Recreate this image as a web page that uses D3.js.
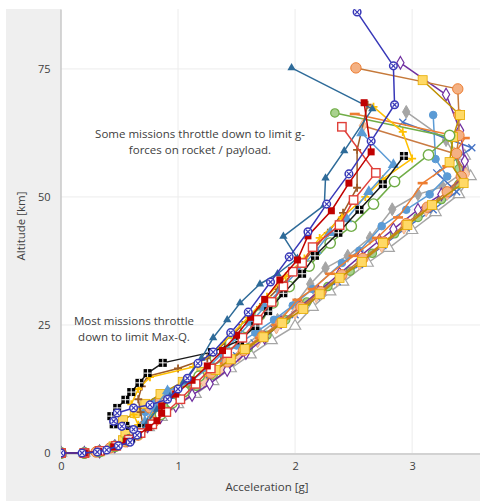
<!DOCTYPE html>
<html><head><meta charset="utf-8">
<script src="https://cdn.jsdelivr.net/npm/d3@7"></script>
<style>body{margin:0;background:#fff}svg{display:block}</style>
</head><body>
<script>
// ---------- DATA (acceleration [g], altitude [km]) ----------
const xTicks = [0, 1, 2, 3];
const yTicks = [0, 25, 50, 75];
const xTitle = "Acceleration [g]";
const yTitle = "Altitude [km]";
const noteTop = ["Some missions throttle down to limit g-", "forces on rocket / payload."];
const noteLow = ["Most missions throttle", "down to limit Max-Q."];

// lower / right band
const greyTriOpen = [[0,0],[0.2,0],[0.33,0.3],[0.46,1.3],[0.57,2.5],[0.66,3.8],[0.75,5],[0.86,7],[1.0,9.5],[1.15,11.5],[1.3,14],[1.45,16.5],[1.62,19.2],[1.8,22],[2.0,24.8],[2.15,28.5],[2.3,31.5],[2.41,33.4],[2.62,37.1],[2.8,40],[3.0,43.5],[3.2,47],[3.4,50.5],[3.5,54],[3.45,58]];
const greyDiamond = [[0,0],[0.2,0],[0.33,0.3],[0.46,1.3],[0.57,2.5],[0.66,3.8],[0.72,5.4],[0.82,7.8],[0.95,10],[1.1,12.5],[1.25,15],[1.4,17.5],[1.55,20.5],[1.7,23.3],[1.85,26],[2.0,29],[2.13,33],[2.26,36.1],[2.45,38.5],[2.64,42],[2.83,47.6],[3.05,50.5],[3.26,52],[3.45,55],[3.29,61.1],[2.95,66.6]];
const blueCross = [[0,0],[0.2,0],[0.33,0.3],[0.46,1.3],[0.58,2.6],[0.67,4],[0.74,5.8],[0.82,8],[0.93,10],[1.05,12],[1.2,14],[1.35,16.5],[1.5,19],[1.65,21.5],[1.82,24.2],[2.0,27],[2.18,30.5],[2.36,33.5],[2.55,36.8],[2.75,40.5],[2.95,44],[3.18,47.5],[3.38,51],[3.21,54.7],[3.51,59.6],[2.92,64.6]];
const lightBlueCircle = [[0,0],[0.2,0],[0.32,0.3],[0.44,1.2],[0.56,2.4],[0.65,3.7],[0.7,5.5],[0.72,8],[0.8,10],[0.92,12],[1.08,14],[1.22,16],[1.36,18.5],[1.5,21],[1.66,23.5],[1.82,26],[1.98,28.8],[2.15,32],[2.4,37.1],[2.55,39.5],[2.74,44.3],[2.95,47.5],[3.15,50.5],[3.3,54],[3.2,57.4],[3.18,66]];
const greenDiamond = [[0,0],[0.2,0],[0.32,0.3],[0.45,1.2],[0.56,2.4],[0.65,3.7],[0.72,5],[0.8,7],[0.9,9],[1.02,11],[1.16,13],[1.3,15.2],[1.45,17.8],[1.6,20.5],[1.76,23],[1.92,26],[2.1,29.5],[2.28,32.5],[2.47,35.5],[2.66,39],[2.85,42.8],[3.05,46],[3.25,49.5],[3.4,52.5],[3.4,55.5],[3.32,61.7],[2.34,66.4]];
const peachDiamond = [[0,0],[0.2,0],[0.32,0.3],[0.45,1.2],[0.56,2.4],[0.65,3.7],[0.73,5.2],[0.83,7.4],[0.95,9.6],[1.08,11.8],[1.22,14],[1.37,16.4],[1.52,19],[1.68,21.8],[1.84,24.5],[2.0,27.4],[2.18,30.6],[2.36,33.8],[2.55,37],[2.74,40.4],[2.93,44],[3.12,47.4],[3.3,50.6],[3.46,54.5],[3.36,58.5],[2.58,63.9]];
const purpleDiamond = [[0,0],[0.2,0],[0.33,0.3],[0.46,1.3],[0.57,2.5],[0.66,3.8],[0.74,5.2],[0.85,7],[0.98,9.2],[1.12,11.3],[1.27,13.5],[1.42,16.2],[1.58,19.5],[1.74,22.5],[1.88,25.5],[2.04,28.5],[2.2,31.5],[2.38,35],[2.56,38.5],[2.72,41.5],[2.84,43.7],[3.05,47.5],[3.25,50.5],[3.42,53.5],[3.45,57],[3.41,63],[3.29,70],[2.90,76.2]];
const orangeDash = [[0,0],[0.2,0],[0.33,0.3],[0.46,1.3],[0.57,2.5],[0.66,3.8],[0.72,5.2],[0.78,7],[0.85,9],[0.98,11],[1.1,13],[1.25,15.2],[1.4,17.5],[1.57,20.5],[1.7,22.5],[1.84,25],[2.02,29.9],[2.15,32],[2.3,35],[2.5,38.5],[2.7,42],[2.88,46],[3.09,52.7],[3.3,56],[3.45,61.5],[2.51,66.2]];
const orangeCircle = [[0,0],[0.2,0],[0.3,0.2],[0.42,1.0],[0.55,2.2],[0.66,3.5],[0.70,5.0],[0.79,6.0],[0.83,7.4],[0.76,8.8],[0.85,10.2],[0.98,12],[1.12,13.8],[1.28,15.6],[1.42,17.8],[1.56,20],[1.72,22.8],[1.88,25.5],[2.05,28.5],[2.22,31.5],[2.4,34.8],[2.58,38],[2.76,41.2],[2.95,44.8],[3.13,48],[3.3,51],[3.42,54],[3.38,58.5],[3.40,62],[3.40,66],[3.39,71.1],[2.52,75.2]];
const yellowSquare = [[0,0],[0.2,0],[0.33,0.3],[0.45,1.3],[0.53,2.5],[0.55,4.0],[0.53,6.4],[0.63,7.8],[0.72,9.6],[0.85,11.5],[1.04,13.9],[1.2,15.8],[1.32,16.2],[1.45,18.3],[1.57,20.3],[1.73,22.6],[1.89,25.4],[2.07,28.1],[2.21,31],[2.38,34.2],[2.57,37.3],[2.75,41],[2.96,44.5],[3.17,48.4],[3.44,52.7],[3.32,56.8],[3.35,61.7],[3.41,66],[3.09,72.8]];

// upper / left band
const brownPlus = [[0,0],[0.2,0],[0.33,0.3],[0.46,1.3],[0.57,2.5],[0.66,3.8],[0.7,5.5],[0.68,8],[0.66,10.5],[0.69,13],[0.74,15],[1.0,16.5],[1.25,18.5],[1.4,21.5],[1.55,25],[1.7,28.5],[1.85,32],[2.0,35.5],[2.15,39.5],[2.28,43],[2.41,46.9],[2.53,51.8],[2.53,59.2],[2.62,68]];
const greenCircleOpen = [[0,0],[0.2,0],[0.33,0.3],[0.46,1.3],[0.57,2.5],[0.66,3.8],[0.75,5.5],[0.85,7.5],[0.95,9.8],[1.05,12],[1.18,15],[1.32,18.5],[1.45,21.5],[1.58,24.5],[1.70,27],[1.81,29.3],[1.95,32.5],[2.12,36.5],[2.30,41],[2.48,44.3],[2.67,48.6],[2.85,53],[3.14,58.2],[3.32,62]];
const yellowPlus = [[0,0],[0.2,0],[0.32,0.3],[0.45,1.3],[0.56,2.5],[0.64,3.8],[0.66,5.5],[0.62,7.5],[0.6,9.5],[0.66,12.5],[0.76,14.8],[1.13,16.8],[1.3,19.5],[1.45,23],[1.6,26.5],[1.76,30.5],[1.92,34.5],[2.08,38],[2.21,42],[2.4,46],[2.6,50],[2.75,53.5],[3.0,57.5],[2.92,62.7],[2.67,67.6]];
const lightBlueTriangle = [[0,0],[0.2,0],[0.33,0.3],[0.46,1.3],[0.58,2.5],[0.67,4],[0.72,6],[0.8,9],[0.91,12.1],[1.1,13.8],[1.25,16.5],[1.38,19.5],[1.5,22.5],[1.62,25.5],[1.74,28.5],[1.88,32],[2.02,35.5],[2.18,39.5],[2.3,43],[2.44,45.7],[2.63,51],[2.84,56.3],[2.57,62.5]];
const blackSquare = [[0,0],[0.2,0],[0.34,0.4],[0.48,1.5],[0.6,2.8],[0.69,4.9],[0.55,5.3],[0.45,5.6],[0.43,7.2],[0.48,8.8],[0.55,10.4],[0.6,11.9],[0.67,13.7],[0.74,15.6],[0.87,17.6],[1.29,19.7],[1.53,22],[1.66,24.8],[1.77,27.7],[1.90,31.2],[2.06,35],[2.17,38.5],[2.37,43],[2.55,47.5],[2.75,52.5],[2.93,58]];
const tealTriangle = [[0,0],[0.2,0],[0.33,0.3],[0.46,1.3],[0.58,2.6],[0.67,4],[0.74,6],[0.82,8.5],[0.93,11],[1.05,14],[1.2,18.5],[1.3,22.5],[1.42,26],[1.53,29.3],[1.7,33],[1.85,35],[2.02,38],[1.90,42.3],[2.25,48.4],[2.26,53.7],[2.42,59],[2.66,67.2],[1.97,75.2]];
const redSquareOpen = [[0,0],[0.2,0],[0.33,0.4],[0.47,1.4],[0.58,2.6],[0.68,3.9],[0.78,5.6],[0.9,8],[1.02,10.5],[1.15,13.5],[1.28,16.5],[1.42,19.5],[1.55,22.5],[1.68,26],[1.8,29.5],[1.9,32.5],[1.98,35.4],[2.06,37.1],[2.15,40.2],[2.38,44.5],[2.50,49.4],[2.69,54.7],[2.40,63.7]];
const redSquare = [[0,0],[0.2,0],[0.32,0.3],[0.45,1.2],[0.56,2.3],[0.66,3.6],[0.75,5.0],[0.82,6.3],[0.86,7.8],[0.86,9.2],[0.98,11.5],[1.12,14.2],[1.25,17],[1.38,20],[1.5,23],[1.62,26.5],[1.74,30],[1.87,33.8],[2.02,37.7],[2.11,42.4],[2.31,47.3],[2.46,52.7],[2.65,58.8],[2.59,68.4]];
const navyCircleX = [[0,0],[0.18,0],[0.31,0.2],[0.39,0.6],[0.49,1.4],[0.59,2.1],[0.65,3.5],[0.62,4.6],[0.52,5.2],[0.45,6.2],[0.48,7.8],[0.62,8.8],[0.76,9.4],[0.91,10.5],[1.0,12.5],[1.08,14.6],[1.17,17.5],[1.3,19.7],[1.45,23.5],[1.6,27.5],[1.79,33.4],[1.95,38.3],[2.11,43.2],[2.27,48.6],[2.46,54.5],[2.65,60.9],[2.85,68],[2.84,75.6],[2.53,86.1]];

// ---------- STYLES (drawing order) ----------
const series = [
  {data: greyTriOpen,      line: "#a5a5a5", marker: "triOpen",   stroke: "#a5a5a5", fill: "#fff"},
  {data: greyDiamond,      line: "#a5a5a5", marker: "diamond",   stroke: "#a5a5a5", fill: "#a5a5a5"},
  {data: blueCross,        line: "#4472c4", marker: "x",         stroke: "#4472c4", fill: "none"},
  {data: lightBlueCircle,  line: "#5b9bd5", marker: "circle",    stroke: "#5b9bd5", fill: "#5b9bd5"},
  {data: greenDiamond,     line: "#70ad47", marker: "circleG",   stroke: "#70ad47", fill: "#a9d18e"},
  {data: peachDiamond,     line: "#c97b43", marker: "diamond",   stroke: "#f4b183", fill: "#f8cbad"},
  {data: purpleDiamond,    line: "#7030a0", marker: "diamondOpen", stroke: "#7030a0", fill: "#fff"},
  {data: orangeDash,       line: "#ed7d31", marker: "dash",      stroke: "#ed7d31", fill: "none"},
  {data: orangeCircle,     line: "#c5793a", marker: "circleBig", stroke: "#ed7d31", fill: "#f4b183"},
  {data: yellowSquare,     line: "#bf9000", marker: "squareBig", stroke: "#e6ac00", fill: "#ffd966"},
  {data: brownPlus,        line: "#9c5a26", marker: "plus",      stroke: "#9c5a26", fill: "none"},
  {data: greenCircleOpen,  line: "#70ad47", marker: "circleOpen",stroke: "#70ad47", fill: "#fff"},
  {data: yellowPlus,       line: "#ffc000", marker: "plus",      stroke: "#ffc000", fill: "none"},
  {data: lightBlueTriangle,line: "#5b9bd5", marker: "triBig",    stroke: "#5b9bd5", fill: "#5b9bd5"},
  {data: blackSquare,      line: "#1a1a1a", marker: "blackSq",   stroke: "#000",    fill: "#000"},
  {data: tealTriangle,     line: "#2e6b99", marker: "tri",       stroke: "#2e6b99", fill: "#2e6b99"},
  {data: redSquareOpen,    line: "#e0403a", marker: "squareOpen",stroke: "#e0403a", fill: "#fff"},
  {data: redSquare,        line: "#c00000", marker: "square",    stroke: "#c00000", fill: "#c00000"},
  {data: navyCircleX,      line: "#3838b8", marker: "circleX",   stroke: "#3838b8", fill: "#fff"}
];

// ---------- CHART ----------
const W = 480, H = 501;
const M = {left: 61, top: 9, right: 0, bottom: 48};
const svg = d3.select("body").append("svg").attr("width", W).attr("height", H);

svg.append("rect").attr("x", 6).attr("y", 9).attr("width", W - 6).attr("height", H - 9).attr("fill", "#efefef");

const x = d3.scaleLinear().domain([0, 3.58]).range([M.left, W]);
const y = d3.scaleLinear().domain([0, 86.7]).range([453, M.top]);

svg.append("rect").attr("x", M.left).attr("y", M.top).attr("width", W - M.left).attr("height", 453 - M.top).attr("fill", "#fff");

const font = "'Open Sans', 'Noto Sans', sans-serif";

// grid
const grid = svg.append("g");
grid.selectAll(".gx").data(xTicks.filter(d => d > 0)).join("line")
  .attr("x1", d => x(d)).attr("x2", d => x(d)).attr("y1", M.top).attr("y2", 453)
  .attr("stroke", "#ececec").attr("stroke-width", 1);
grid.selectAll(".gy").data(yTicks.filter(d => d > 0)).join("line")
  .attr("x1", M.left).attr("x2", W).attr("y1", d => y(d)).attr("y2", d => y(d))
  .attr("stroke", "#ececec").attr("stroke-width", 1);

// axes
const xAxis = svg.append("g").attr("transform", "translate(0,453.5)")
  .call(d3.axisBottom(x).tickValues(xTicks).tickSize(0).tickPadding(9).tickFormat(d3.format("d")));
const yAxis = svg.append("g").attr("transform", "translate(60.5,0)")
  .call(d3.axisLeft(y).tickValues(yTicks).tickSize(0).tickPadding(10).tickFormat(d3.format("d")));
[xAxis, yAxis].forEach(a => {
  a.select(".domain").attr("stroke", "#c8c8c8").attr("stroke-width", 1.5);
  a.selectAll("text").attr("font-family", font).attr("font-size", 11).attr("fill", "#404040");
});

// plot
const clip = svg.append("clipPath").attr("id", "clp").append("rect")
  .attr("x", M.left).attr("y", M.top).attr("width", W - M.left).attr("height", 453 - M.top + 6);
const plot = svg.append("g").attr("clip-path", "url(#clp)");
const lineGen = d3.line().x(d => x(d[0])).y(d => y(d[1]));

function drawMarker(g, s) {
  const t = s.marker;
  const c = s.stroke;
  if (t === "circle") g.append("circle").attr("r", 3.8).attr("fill", s.fill).attr("stroke", c);
  else if (t === "circleG") g.append("circle").attr("r", 4.2).attr("fill", s.fill).attr("stroke", c).attr("stroke-width", 1.2);
  else if (t === "circleBig") g.append("circle").attr("r", 5.2).attr("fill", s.fill).attr("stroke", c).attr("stroke-width", 1);
  else if (t === "circleOpen") g.append("circle").attr("r", 5.2).attr("fill", "#fff").attr("stroke", c).attr("stroke-width", 1.4);
  else if (t === "circleX") {
    g.append("circle").attr("r", 3.8).attr("fill", "#fff").attr("stroke", c).attr("stroke-width", 1.5);
    g.append("path").attr("d", "M-2,-2L2,2M-2,2L2,-2").attr("stroke", c).attr("stroke-width", 1.2);
  }
  else if (t === "square") g.append("rect").attr("x", -3.5).attr("y", -3.5).attr("width", 7).attr("height", 7).attr("fill", s.fill);
  else if (t === "squareBig") g.append("rect").attr("x", -4.5).attr("y", -4.5).attr("width", 9).attr("height", 9).attr("fill", s.fill).attr("stroke", c).attr("stroke-width", 0.8);
  else if (t === "squareOpen") g.append("rect").attr("x", -4.2).attr("y", -4.2).attr("width", 8.4).attr("height", 8.4).attr("fill", "#fff").attr("stroke", c).attr("stroke-width", 1.4);
  else if (t === "blackSq") {
    g.append("rect").attr("x", -4).attr("y", -4).attr("width", 8).attr("height", 8).attr("fill", "#000");
    g.append("path").attr("d", "M-4,0H4M0,-4V4").attr("stroke", "#fff").attr("stroke-width", 1);
  }
  else if (t === "tri") g.append("path").attr("d", d3.symbol(d3.symbolTriangle, 30)()).attr("fill", s.fill);
  else if (t === "triBig") g.append("path").attr("d", d3.symbol(d3.symbolTriangle, 55)()).attr("fill", s.fill);
  else if (t === "triOpen") g.append("path").attr("d", d3.symbol(d3.symbolTriangle, 55)()).attr("fill", "#fff").attr("stroke", c).attr("stroke-width", 1.2);
  else if (t === "diamond") g.append("path").attr("d", d3.symbol(d3.symbolDiamond, 48)()).attr("fill", s.fill).attr("stroke", c);
  else if (t === "diamondOpen") g.append("path").attr("d", d3.symbol(d3.symbolDiamond, 45)()).attr("fill", "#fff").attr("stroke", c).attr("stroke-width", 1.2);
  else if (t === "x") g.append("path").attr("d", "M-3.5,-3.5L3.5,3.5M-3.5,3.5L3.5,-3.5").attr("stroke", c).attr("stroke-width", 1.3);
  else if (t === "plus") g.append("path").attr("d", "M-4,0H4M0,-4V4").attr("stroke", c).attr("stroke-width", 1.8);
  else if (t === "dash") g.append("path").attr("d", "M-5,0H5").attr("stroke", c).attr("stroke-width", 2.6);
}

series.forEach(s => {
  const g = plot.append("g");
  g.append("path").datum(s.data).attr("d", lineGen)
    .attr("fill", "none").attr("stroke", s.line).attr("stroke-width", 1.5).attr("stroke-linejoin", "round");
  g.selectAll(".m").data(s.data).join("g")
    .attr("transform", d => `translate(${x(d[0])},${y(d[1])})`)
    .each(function () { drawMarker(d3.select(this), s); });
});

// titles
svg.append("text").attr("x", 267).attr("y", 491).attr("text-anchor", "middle")
  .attr("font-family", font).attr("font-size", 11.5).attr("fill", "#404040").text(xTitle);
svg.append("text").attr("transform", "translate(25,226) rotate(-90)").attr("text-anchor", "middle")
  .attr("font-family", font).attr("font-size", 11.5).attr("fill", "#404040").text(yTitle);

// annotations
function note(lines, cx, y0) {
  const t = svg.append("text").attr("text-anchor", "middle").attr("font-family", font)
    .attr("font-size", 11.5).attr("fill", "#404040");
  lines.forEach((l, i) => t.append("tspan").attr("x", cx).attr("y", y0 + i * 16).text(l));
}
note(noteTop, 200, 138);
note(noteLow, 134, 325);
</script>
</body></html>
